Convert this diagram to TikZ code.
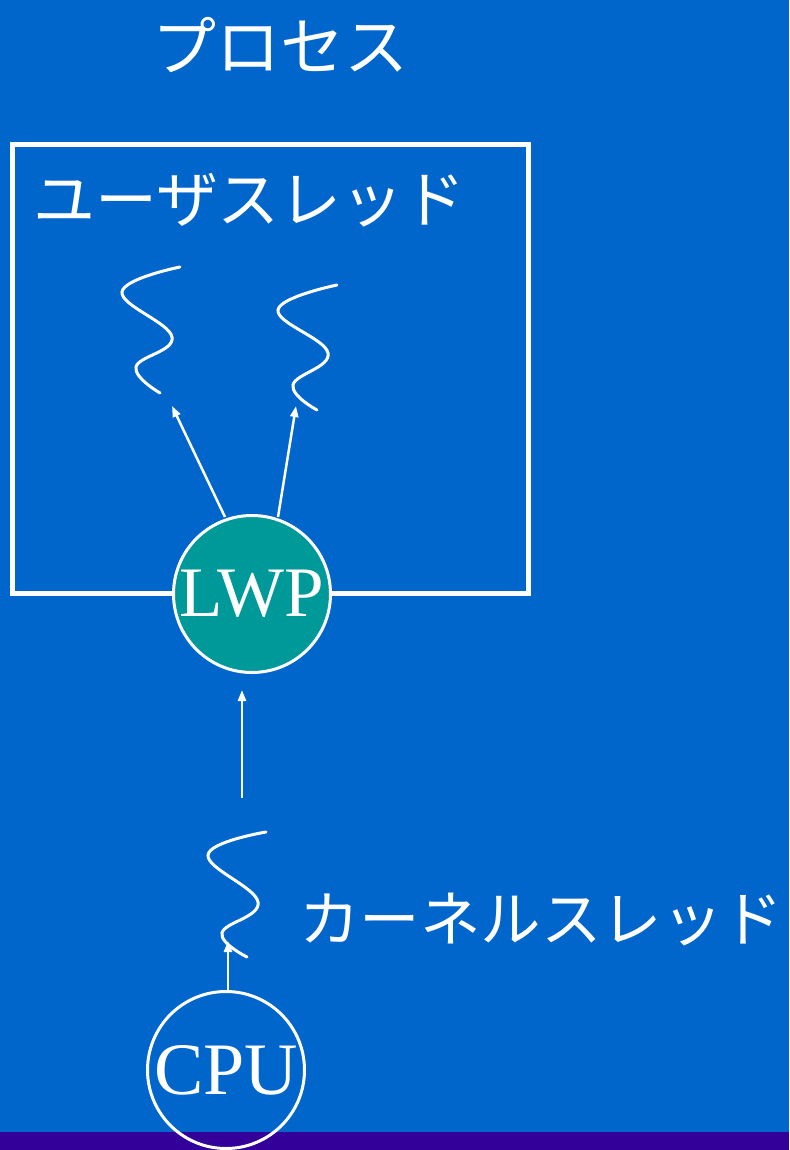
\documentclass[tikz,border=0pt]{standalone}
\usepackage{fontspec}
\setmainfont{Liberation Serif}
\newfontfamily\cjk{Noto Sans CJK JP}
\usetikzlibrary{arrows.meta}
\definecolor{bgblue}{HTML}{0066CC}
\definecolor{barpurple}{HTML}{330099}
\definecolor{lwpteal}{HTML}{009999}
\tikzset{
  jp/.style={text=white,font=\cjk\fontsize{62}{70}\selectfont,inner sep=0pt},
  thr/.style={draw=white,line width=3pt,line cap=round},
  arr/.style={draw=white,line width=2.5pt,-{Triangle[length=11pt,width=8pt]}},
  circ/.style={circle,draw=white,line width=3pt,minimum size=157pt,inner sep=0pt,text=white}
}
\begin{document}
\begin{tikzpicture}[x=1pt,y=-1pt]
\useasboundingbox (0,0) rectangle (789,1150);
\fill[bgblue] (0,0) rectangle (789,1150);
\fill[barpurple] (0,1132) rectangle (789,1150);
\node[jp,font=\cjk\fontsize{64}{70}\selectfont] (title) at (280,45) {プロセス};
\draw[white,line width=5pt] (12,145) rectangle (528,593);
\node[jp,anchor=west] (ut) at (33,200) {ユーザスレッド};
% user threads
\draw[thr] plot[smooth,tension=0.7] coordinates {(180,267) (122,292) (172,337) (136,367) (160,393)};
\draw[thr] plot[smooth,tension=0.7] coordinates {(337,285) (278,310) (328,353) (293,385) (317,410)};
\coordinate (u1) at (172,406);
\coordinate (u2) at (296,406);
\node[circ,fill=lwpteal,font=\fontsize{71}{72}\selectfont] (lwp) at (252,594) {LWP};
\coordinate (a1) at (225,517);
\coordinate (a2) at (278,517);
\draw[arr] (a1) -- (u1);
\draw[arr] (a2) -- (u2);
% kernel thread
\coordinate (k0) at (242,798);
\coordinate (lt) at (242,690);
\draw[arr] (k0) -- (lt);
\draw[thr] plot[smooth,tension=0.7] coordinates {(266,832) (208,855) (258,902) (222,933) (247,957)};
\node[jp,anchor=west,font=\cjk\fontsize{60.5}{70}\selectfont] (kt) at (299,920) {カーネルスレッド};
\node[circ,font=\fontsize{74}{76}\selectfont] (cpu) at (226,1070) {CPU};
\coordinate (kt0) at (228,941);
\draw[arr] (cpu.north -| kt0) -- (kt0);
\end{tikzpicture}
\end{document}
